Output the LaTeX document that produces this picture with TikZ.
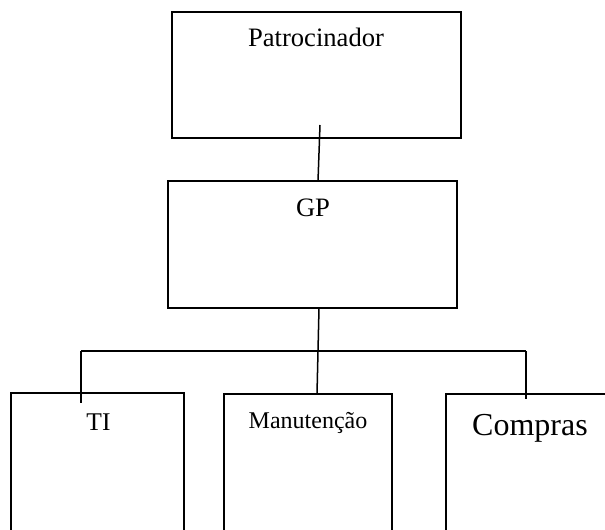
\documentclass[tikz,border=0pt]{standalone}
\usepackage{fontspec}
\setmainfont{Liberation Serif}
\begin{document}
\begin{tikzpicture}[x=1bp,y=-1bp,
  box/.style={draw,line width=1.5bp,rectangle,inner sep=0pt,outer sep=0pt,anchor=north west},
  wire/.style={line width=1.5bp},
  lbl/.style={anchor=base,inner sep=0pt,outer sep=0pt}]
\useasboundingbox (0,0) rectangle (605,530);
\clip (0,0) rectangle (605,530);
% boxes
\node[box, minimum width=289bp, minimum height=126bp] (pat) at (172,12) {};
\node[box, minimum width=289bp, minimum height=127bp] (gp) at (168,181) {};
\node[box, minimum width=173bp, minimum height=200bp] (ti) at (11,393) {};
\node[box, minimum width=168bp, minimum height=200bp] (man) at (224,394) {};
\node[box, minimum width=200bp, minimum height=200bp] (comp) at (446,394) {};
% labels
\node[lbl] (patT) at (316,47) {\fontsize{26.6bp}{30bp}\selectfont Patrocinador};
\node[lbl] (gpT) at (313,217) {\fontsize{26.6bp}{30bp}\selectfont GP};
\node[lbl] (tiT) at (98.5,430) {\fontsize{25.5bp}{30bp}\selectfont TI};
\node[lbl] (manT) at (308,428) {\fontsize{24bp}{28bp}\selectfont Manutenção};
\node[lbl] (compT) at (530,435) {\fontsize{32bp}{36bp}\selectfont Compras};
% connector points
\coordinate (p1) at (320,125);
\coordinate (g1) at (318,181);
\coordinate (g2) at (319,308);
\coordinate (m1) at (317,394);
\coordinate (bl) at (81,351);
\coordinate (br) at (526,351);
\coordinate (t1) at (81,403);
\coordinate (c1) at (526,399);
% connectors
\draw[wire] (p1) -- (g1);
\draw[wire] (g2) -- (m1);
\draw[wire] (bl) -- (br);
\draw[wire] (bl) -- (t1);
\draw[wire] (br) -- (c1);
\end{tikzpicture}
\end{document}
